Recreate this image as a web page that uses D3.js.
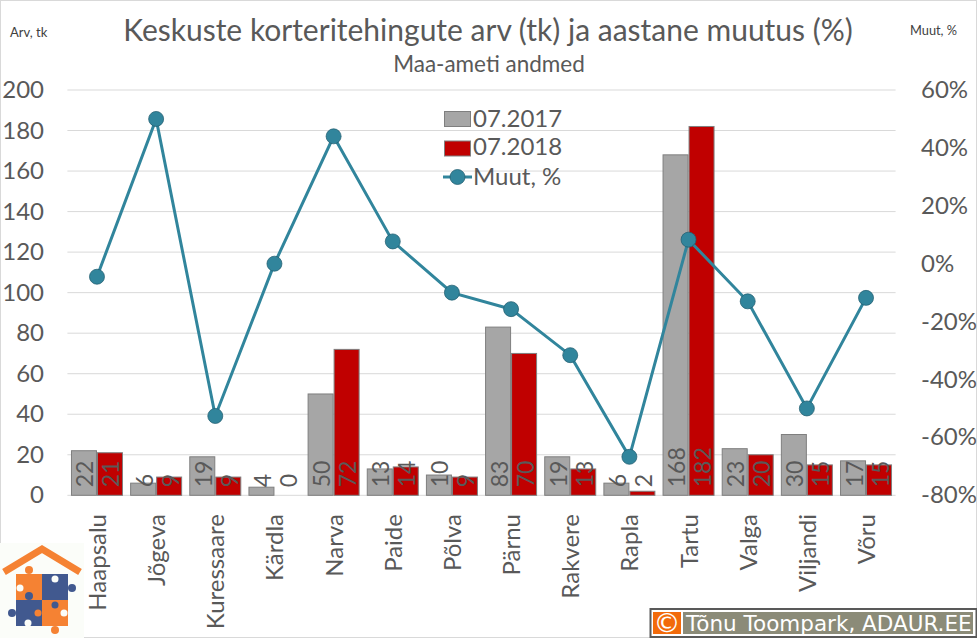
<!DOCTYPE html>
<html><head><meta charset="utf-8">
<script src="https://cdnjs.cloudflare.com/ajax/libs/d3/7.8.5/d3.min.js"></script>
<style>html,body{margin:0;padding:0;background:#fff;overflow:hidden}svg{display:block}text{font-family:Lato,sans-serif}</style>
</head><body><script>
const categories=["Haapsalu","Jõgeva","Kuressaare","Kärdla","Narva","Paide","Põlva","Pärnu","Rakvere","Rapla","Tartu","Valga","Viljandi","Võru"];
const values2017=[22,6,19,4,50,13,10,83,19,6,168,23,30,17];
const values2018=[21,9,9,0,72,14,9,70,13,2,182,20,15,15];
const changePct=[-4.5,50,-52.6,0,44,7.7,-10,-15.7,-31.6,-66.7,8.3,-13,-50,-11.8];
const leftTicks=[0,20,40,60,80,100,120,140,160,180,200];
const rightTicks=[-80,-60,-40,-20,0,20,40,60];
const seriesNames=["07.2017","07.2018","Muut, %"];

const W=977,H=638,ink="#595959",gray="#a6a6a6",red="#c00000",teal="#31859c",tealDark="#215e70";
const svg=d3.select("body").append("svg").attr("width",W).attr("height",H);
svg.append("rect").attr("x",.5).attr("y",.5).attr("width",W-1).attr("height",H-1).attr("fill","#fff").attr("stroke","#d9d9d9");

const x=d3.scaleBand().domain(categories).range([67.4,895.6]);
const inner=d3.scaleBand().domain([0,1]).range([0,52]);
const yL=d3.scaleLinear().domain([0,200]).range([495.3,90]);
const yR=d3.scaleLinear().domain([-80,60]).range([495.3,90]);

// gridlines
svg.append("g").selectAll("line").data(leftTicks).join("line")
 .attr("x1",x.range()[0]).attr("x2",x.range()[1]).attr("y1",d=>yL(d)).attr("y2",d=>yL(d))
 .attr("stroke","#d9d9d9").attr("stroke-width",1);

// axes labels
const tick=(vals,fn,xp,anchor,fmt)=>svg.append("g").selectAll("text").data(vals).join("text")
 .attr("x",xp).attr("y",fn).attr("dy",8).attr("text-anchor",anchor).attr("fill",ink)
 .attr("font-size",24).text(fmt);
tick(leftTicks,d=>yL(d),44,"end",d=>d);
tick(rightTicks,d=>yR(d),921,"start",d=>d+"%");

// bars
const offs=(x.bandwidth()-52)/2;
[[values2017,gray,"#7f7f7f",0],[values2018,red,"#7f7f7f",1]].forEach(([vals,fill,stroke,i])=>{
 svg.append("g").selectAll("rect").data(vals).join("rect")
  .attr("x",(d,j)=>x(categories[j])+offs+inner(i)+.5)
  .attr("width",inner.bandwidth()-1)
  .attr("y",d=>yL(d)).attr("height",d=>yL(0)-yL(d))
  .attr("fill",fill).attr("stroke",d=>d===0?"none":stroke).attr("stroke-width",1);
});

// line
const cx=(d,j)=>x(categories[j])+x.bandwidth()/2;
const line=d3.line().x((d,j)=>cx(d,j)).y(d=>yR(d));
svg.append("path").datum(changePct).attr("d",line).attr("fill","none").attr("stroke",teal).attr("stroke-width",3);
svg.append("g").selectAll("circle").data(changePct).join("circle")
 .attr("cx",cx).attr("cy",d=>yR(d)).attr("r",7.5).attr("fill",teal).attr("stroke",tealDark).attr("stroke-width",.75);

// bar labels
[[values2017,0],[values2018,1]].forEach(([vals,i])=>{
 svg.append("g").selectAll("text").data(vals).join("text")
  .attr("transform",(d,j)=>`translate(${x(categories[j])+offs+inner(i)+inner.bandwidth()/2+9.5},${yL(0)-8}) rotate(-90)`)
  .attr("fill",ink).attr("font-size",23).text(d=>d);
});

// category labels
svg.append("g").selectAll("text").data(categories).join("text")
 .attr("transform",d=>`translate(${x(d)+x.bandwidth()/2+9},514) rotate(-90)`)
 .attr("text-anchor","end").attr("fill",ink).attr("font-size",24).text(d=>d);

// titles
svg.append("text").attr("x",488).attr("y",41).attr("text-anchor","middle").attr("fill",ink).attr("font-size",30).text("Keskuste korteritehingute arv (tk) ja aastane muutus (%)");
svg.append("text").attr("x",489).attr("y",72).attr("text-anchor","middle").attr("fill",ink).attr("font-size",22.5).text("Maa-ameti andmed");
svg.append("text").attr("x",10).attr("y",37).attr("fill","#404040").attr("font-size",13).text("Arv, tk");
svg.append("text").attr("x",910).attr("y",35).attr("fill","#404040").attr("font-size",12.8).text("Muut, %");

// legend
const lg=svg.append("g");
[gray,red].forEach((c,i)=>{
 lg.append("rect").attr("x",444.5).attr("y",[111.5,141][i]).attr("width",26).attr("height",15).attr("fill",c).attr("stroke","#7f7f7f");
});
lg.append("line").attr("x1",443).attr("x2",472).attr("y1",177).attr("y2",177).attr("stroke",teal).attr("stroke-width",3);
lg.append("circle").attr("cx",457.5).attr("cy",177).attr("r",7.5).attr("fill",teal).attr("stroke",tealDark).attr("stroke-width",.75);
lg.selectAll("text").data(seriesNames).join("text").attr("x",473).attr("y",(d,i)=>[127,155,185][i])
 .attr("fill",ink).attr("font-size",24).text(d=>d);

// logo
const logo=svg.append("g");
const org="#f58233",blu="#41598f",pale="#fbfdf9";
logo.append("rect").attr("x",0).attr("y",543).attr("width",84).attr("height",95).attr("fill",pale);
logo.append("path").attr("d","M4,572 L42,549 L80,572").attr("fill","none").attr("stroke",org).attr("stroke-width",7);
[[16,574,26,26,org],[42,574,26,26,blu],[16,600,26,26,blu],[42,600,26,26,org]].forEach(r=>
 logo.append("rect").attr("x",r[0]).attr("y",r[1]).attr("width",r[2]).attr("height",r[3]).attr("fill",r[4]));
[[29,570,4,org],[72,588,4,blu],[29,596,4,blu],[12,613,4,blu],[55,630,4,org],[55,605,3.5,blu],[38,613,3.5,org],[20,588,3.5,pale],[55,579,3.5,pale],[28,623,3.5,pale],[64,613,3.5,pale]].forEach(c=>
 logo.append("circle").attr("cx",c[0]).attr("cy",c[1]).attr("r",c[2]).attr("fill",c[3]));

// credit
const cr=svg.append("g");
cr.append("rect").attr("x",650.5).attr("y",609).attr("width",326).attr("height",28).attr("fill","#fff").attr("stroke","#595959").attr("stroke-width",2);
cr.append("rect").attr("x",653).attr("y",612).attr("width",28).attr("height",22).attr("fill","#f26a0a");
cr.append("rect").attr("x",683).attr("y",612).attr("width",290).attr("height",22).attr("fill","#8b8b78");
cr.append("text").attr("x",667).attr("y",632).attr("text-anchor","middle").attr("fill","#fff").attr("font-size",27).style("font-family","DejaVu Sans").text("©");
cr.append("text").attr("x",686).attr("y",631).attr("fill","#fff").attr("font-size",21.5).style("font-family","DejaVu Sans").text("Tõnu Toompark, ADAUR.EE");
</script></body></html>
